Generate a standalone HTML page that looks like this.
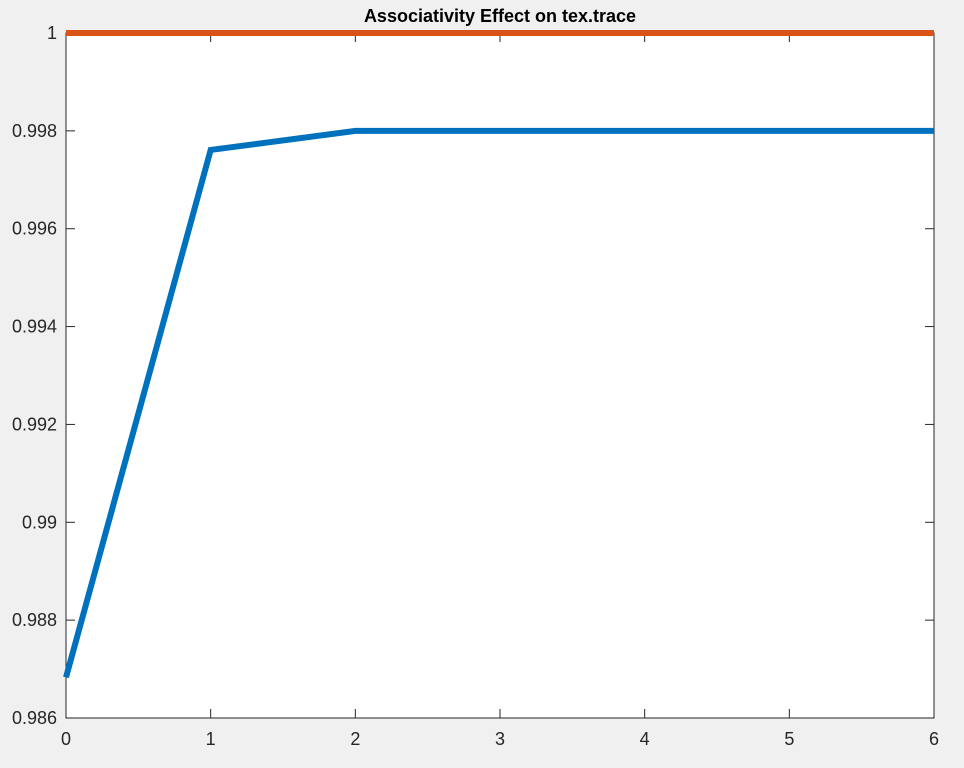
<!DOCTYPE html>
<html><head><meta charset="utf-8"><style>
html,body{margin:0;padding:0;background:#f0f0f0;}
svg{display:block;font-family:"Liberation Sans",sans-serif;}
</style></head><body>
<svg id="chart" width="964" height="768">
<rect x="0" y="0" width="964" height="768" fill="#f0f0f0"/>
<rect x="66" y="33" width="868" height="685" fill="#fff"/>
<g id="grid"></g>
<rect x="66" y="33" width="868" height="685" fill="none" stroke="#262626" stroke-width="1"/>
<g id="series"></g>
<text x="500" y="22" text-anchor="middle" font-size="18" font-weight="bold" fill="#000">Associativity Effect on tex.trace</text>
</svg>
<script>
const xTicks = [0,1,2,3,4,5,6];
const yTicks = [0.986,0.988,0.99,0.992,0.994,0.996,0.998,1];
const yTickLabels = ["0.986","0.988","0.99","0.992","0.994","0.996","0.998","1"];
const xValues = [0,1,2,3,4,5,6];
const blueValues = [0.98683,0.99761,0.998,0.998,0.998,0.998,0.998];
const orangeValues = [1,1,1,1,1,1,1];
const L=66,R=934,T=33,B=718;
const xs=v=>L+(v-0)/(6-0)*(R-L);
const ys=v=>B-(v-0.986)/(1-0.986)*(B-T);
const NS="http://www.w3.org/2000/svg";
const g=document.getElementById('grid'), s=document.getElementById('series');
function mk(tag,attrs,parent){const e=document.createElementNS(NS,tag);for(const k in attrs)e.setAttribute(k,attrs[k]);parent.appendChild(e);return e;}
xTicks.forEach((t,i)=>{
  const x=xs(t);
  const a=mk('line',{x1:x,x2:x,y1:B,y2:B-9,stroke:'#262626'},g);
  
  
  const b=mk('line',{x1:x,x2:x,y1:T,y2:T+9,stroke:'#262626'},g);
  
  
  const tx=mk('text',{x:x,y:B+27,'text-anchor':'middle','font-size':'18',fill:'#262626'},g);
  tx.textContent=String(t);
  
  
});
yTicks.forEach((t,i)=>{
  const y=ys(t);
  const a=mk('line',{x1:L,x2:L+9,y1:y,y2:y,stroke:'#262626'},g);
  
  
  const b=mk('line',{x1:R,x2:R-9,y1:y,y2:y,stroke:'#262626'},g);
  
  
  const tx=mk('text',{x:L-9,y:y+6,'text-anchor':'end','font-size':'18',fill:'#262626'},g);
  tx.textContent=yTickLabels[i];
  
  
});
function line(vals,color,name){
  const p=mk('polyline',{points:vals.map((v,i)=>xs(xValues[i])+','+ys(v)).join(' '),fill:'none',stroke:color,'stroke-width':'6','stroke-linejoin':'miter'},s);
  
  
}
line(blueValues,'#0072bd','blue-series-line');
line(orangeValues,'#d95319','orange-series-line');
</script>
</body></html>
